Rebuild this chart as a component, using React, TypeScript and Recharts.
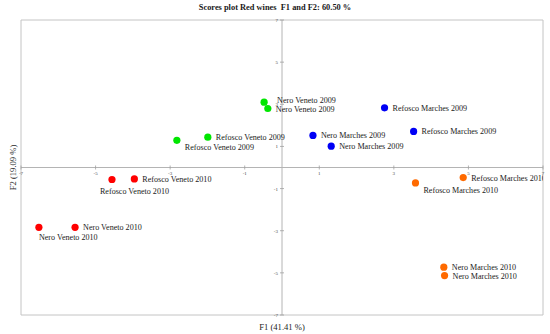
import {
  ReferenceArea,
  ReferenceDot,
  ReferenceLine,
  Scatter,
  ScatterChart,
  XAxis,
  YAxis,
} from 'recharts';

const WIDTH = 550;
const HEIGHT = 334;
const FONT = '"Liberation Serif", "DejaVu Serif", serif';

const f1Ticks = [-7, -5, -3, -1, 1, 3, 5, 7];
const f2Ticks = [-7, -5, -3, -1, 1, 3, 5, 7];

// Veneto 2009
const greenNames = ['Nero Veneto 2009', 'Nero Veneto 2009', 'Refosco Veneto 2009', 'Refosco Veneto 2009'];
const greenF1 = [-0.48, -0.38, -1.99, -2.82];
const greenF2 = [3.1, 2.8, 1.44, 1.29];

// Veneto 2010
const redNames = ['Refosco Veneto 2010', 'Refosco Veneto 2010', 'Nero Veneto 2010', 'Nero Veneto 2010'];
const redF1 = [-3.96, -4.56, -5.55, -6.52];
const redF2 = [-0.54, -0.57, -2.84, -2.84];

// Marches 2009
const blueNames = ['Refosco Marches 2009', 'Refosco Marches 2009', 'Nero Marches 2009', 'Nero Marches 2009'];
const blueF1 = [2.75, 3.53, 0.83, 1.32];
const blueF2 = [2.83, 1.71, 1.52, 1.01];

// Marches 2010
const orangeNames = ['Refosco Marches 2010', 'Refosco Marches 2010', 'Nero Marches 2010', 'Nero Marches 2010'];
const orangeF1 = [4.86, 3.58, 4.34, 4.36];
const orangeF2 = [-0.48, -0.73, -4.73, -5.13];

// where each point's label sits
const greenPlace = ['rightUp', 'right', 'right', 'belowRight'];
const redPlace = ['right', 'underLeft', 'right', 'under'];
const bluePlace = ['right', 'right', 'right', 'right'];
const orangePlace = ['right', 'belowRight', 'right', 'right'];

const OFFSETS: Record<string, [number, number]> = {
  right: [8, 0],
  rightUp: [13, -2],
  belowRight: [8, 7],
  under: [0, 10],
  underLeft: [-12, 11],
};

const build = (names: string[], f1: number[], f2: number[], place: string[]) =>
  names.map((name, i) => ({ name, f1: f1[i], f2: f2[i], place: place[i] }));

const groups = [
  { key: 'v09', color: '#00e600', data: build(greenNames, greenF1, greenF2, greenPlace) },
  { key: 'v10', color: '#ff0000', data: build(redNames, redF1, redF2, redPlace) },
  { key: 'm09', color: '#0000f5', data: build(blueNames, blueF1, blueF2, bluePlace) },
  { key: 'm10', color: '#ff6a00', data: build(orangeNames, orangeF1, orangeF2, orangePlace) },
];

const pointShape = (color: string) => (p: any) => {
  const [dx, dy] = OFFSETS[p.payload.place] || OFFSETS.right;
  return (
    <g>
      <circle cx={p.cx} cy={p.cy} r={3.6} fill={color} />
      <text
        x={p.cx + dx}
        y={p.cy + dy + 3}
        fontSize={8.1}
        fontFamily={FONT}
        fill="#1a1a1a"
      >
        {p.payload.name}
      </text>
    </g>
  );
};

const xTickShape = (t: number) => (p: any) => (
  <g>
    <line x1={p.cx} x2={p.cx} y1={p.cy - 2} y2={p.cy + 2} stroke="#a0a0a0" strokeWidth={0.8} />
    <text x={p.cx} y={p.cy + 7} fontSize={5} textAnchor="middle" fill="#444" fontFamily={FONT}>
      {t}
    </text>
  </g>
);

const yTickShape = (t: number) => (p: any) => (
  <g>
    <line x1={p.cx - 2} x2={p.cx + 2} y1={p.cy} y2={p.cy} stroke="#a0a0a0" strokeWidth={0.8} />
    <text x={p.cx - 4} y={p.cy + 2} fontSize={5} textAnchor="end" fill="#444" fontFamily={FONT}>
      {t}
    </text>
  </g>
);

export default function App() {
  return (
    <div style={{ position: 'absolute', top: 0, left: 0, width: WIDTH, height: HEIGHT, background: '#fff' }}>
      <div
        style={{
          position: 'absolute',
          top: 3,
          left: 0,
          width: WIDTH,
          textAlign: 'center',
          fontFamily: FONT,
          fontWeight: 'bold',
          fontSize: 8.4,
          lineHeight: '10px',
          color: '#1a1a1a',
        }}
      >
        Scores plot Red wines&nbsp; F1 and F2: 60.50 %
      </div>
      <ScatterChart width={WIDTH} height={HEIGHT} margin={{ top: 20, right: 7, bottom: 0, left: 0 }}>
        <XAxis
          type="number"
          dataKey="f1"
          domain={[-7, 7]}
          ticks={f1Ticks}
          allowDataOverflow
          height={19}
          tick={false}
          axisLine={false}
          tickLine={false}
          label={{ value: 'F1 (41.41 %)', position: 'center', dy: 2, fontSize: 8.6, fontFamily: FONT, fill: '#1a1a1a' }}
        />
        <YAxis
          type="number"
          dataKey="f2"
          domain={[-7, 7]}
          ticks={f2Ticks}
          allowDataOverflow
          width={21}
          tick={false}
          axisLine={false}
          tickLine={false}
          label={{ value: 'F2 (19.09 %)', angle: -90, position: 'center', dx: 2, fontSize: 8.6, fontFamily: FONT, fill: '#1a1a1a' }}
        />
        <ReferenceArea x1={-7} x2={7} y1={-7} y2={7} fill="none" stroke="#c4c4c4" strokeWidth={1} />
        <ReferenceLine x={0} stroke="#b4b4b4" strokeWidth={1} />
        <ReferenceLine y={0} stroke="#b4b4b4" strokeWidth={1} />
        {f1Ticks.map((t) => (
          <ReferenceDot key={'x' + t} x={t} y={0} r={0} shape={xTickShape(t)} />
        ))}
        {f2Ticks.map((t) => (
          <ReferenceDot key={'y' + t} x={0} y={t} r={0} shape={yTickShape(t)} />
        ))}
        {groups.map((g) => (
          <Scatter
            key={g.key}
            data={g.data}
            fill={g.color}
            shape={pointShape(g.color)}
            isAnimationActive={false}
          />
        ))}
      </ScatterChart>
    </div>
  );
}
